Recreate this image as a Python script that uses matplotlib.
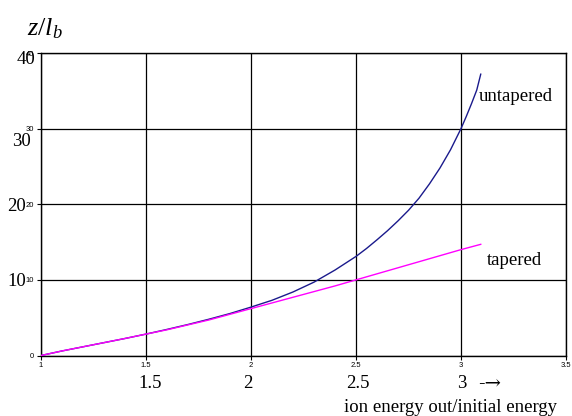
import matplotlib
matplotlib.use("Agg")
import matplotlib.pyplot as plt
import matplotlib.transforms as mtransforms

# Data
x_untapered = [1.0, 1.1, 1.2, 1.3, 1.4, 1.5, 1.6, 1.7, 1.8, 1.9, 2.0, 2.1, 2.2, 2.3,
               2.4, 2.5, 2.55, 2.6, 2.65, 2.7, 2.75, 2.8, 2.85, 2.9, 2.95, 3.0,
               3.025, 3.05, 3.075, 3.094]
y_untapered = [0.0, 0.6, 1.15, 1.7, 2.25, 2.83, 3.45, 4.1, 4.8, 5.55, 6.4, 7.3, 8.4, 9.7,
               11.3, 13.1, 14.15, 15.3, 16.5, 17.8, 19.2, 20.8, 22.7, 24.8, 27.2, 30.0,
               31.6, 33.3, 35.1, 37.2]
x_tapered = [1.0, 1.1, 1.2, 1.3, 1.4, 1.5, 1.6, 1.7, 1.8, 1.9, 2.0, 2.1, 2.2, 2.3,
             2.4, 2.5, 2.6, 2.7, 2.8, 2.9, 3.0, 3.094]
y_tapered = [0.0, 0.6, 1.15, 1.7, 2.25, 2.83, 3.4, 4.05, 4.7, 5.45, 6.2, 6.95, 7.7, 8.45,
             9.2, 10.0, 10.8, 11.6, 12.4, 13.2, 14.0, 14.7]

x_ticks = [1, 1.5, 2, 2.5, 3, 3.5]
x_ticklabels = ["1", "1.5", "2", "2.5", "3", "3.5"]
y_ticks = [0, 10, 20, 30, 40]
y_ticklabels = ["0", "10", "20", "30", "40"]
big_x_labels = ["1.5", "2", "2.5", "3"]
big_x_pos = [1.5, 2, 2.5, 3]
big_y_labels = ["10", "20", "30", "40"]
big_y_pos = [10, 20, 30, 40]

plt.rcParams['mathtext.fontset'] = 'custom'
plt.rcParams['mathtext.it'] = 'Liberation Serif:italic'
plt.rcParams['mathtext.rm'] = 'Liberation Serif'

W, H = 572, 416
fig = plt.figure(figsize=(W / 100, H / 100), dpi=100)
ax = fig.add_axes([41 / W, 1 - 355.5 / H, (566 - 41) / W, (355.5 - 53) / H])

ax.plot(x_untapered, y_untapered, color="#1a1a8c", lw=1.0, zorder=3)
ax.plot(x_tapered, y_tapered, color="#ff00ff", lw=1.0, zorder=3)

ax.set_xlim(1, 3.5)
ax.set_ylim(0, 40)
ax.set_xticks(x_ticks)
ax.set_xticklabels(x_ticklabels, fontsize=5.5, family="Liberation Sans")
ax.set_yticks(y_ticks)
ax.set_yticklabels(y_ticklabels, fontsize=5.5, family="Liberation Sans")
ax.tick_params(direction="out", length=3, width=0.8, pad=2, color="black")
ax.grid(True, color="black", lw=0.9)
for s in ax.spines.values():
    s.set_linewidth(1.0)
    s.set_color("black")

serif = "Liberation Serif"
# big x labels below
bx = mtransforms.blended_transform_factory(ax.transData, ax.transAxes)
x_shift = [3, -2, 1.5, 0.5]
for lab, p, dx in zip(big_x_labels, big_x_pos, x_shift):
    ax.annotate(lab, xy=(p, 0), xycoords=bx, xytext=(dx, -20), textcoords="offset points",
                ha="center", va="center", fontsize=13.5, family=serif, annotation_clip=False)
ax.annotate("-\u2192", xy=(3.138, 0), xycoords=bx, xytext=(0, -20), textcoords="offset points",
            ha="center", va="center", fontsize=14, family=["DejaVu Serif"], annotation_clip=False)
fig.text(451 / W, 1 - 408 / H, "ion energy out/initial energy", ha="center", va="center",
         fontsize=13.5, family=serif)

# big y labels left
by = mtransforms.blended_transform_factory(ax.transAxes, ax.transData)
y_offsets = [-1, -1.7, -9, -4.5]
x_right = [-11, -11, -7.5, -4]
for lab, p, dy, dx in zip(big_y_labels, big_y_pos, y_offsets, x_right):
    ax.annotate(lab, xy=(0, p), xycoords=by, xytext=(dx, dy), textcoords="offset points",
                ha="right", va="center", fontsize=13.5, family=serif, annotation_clip=False)

fig.text(27 / W, 1 - 35 / H, r"$z/l_b$", ha="left", va="baseline", fontsize=19)

ax.text(3.086, 34.2, "untapered", fontsize=13.5, family=serif, ha="left", va="center")
ax.text(3.124, 12.6, "tapered", fontsize=13.5, family=serif, ha="left", va="center")

fig.savefig("out.png", dpi=100)
